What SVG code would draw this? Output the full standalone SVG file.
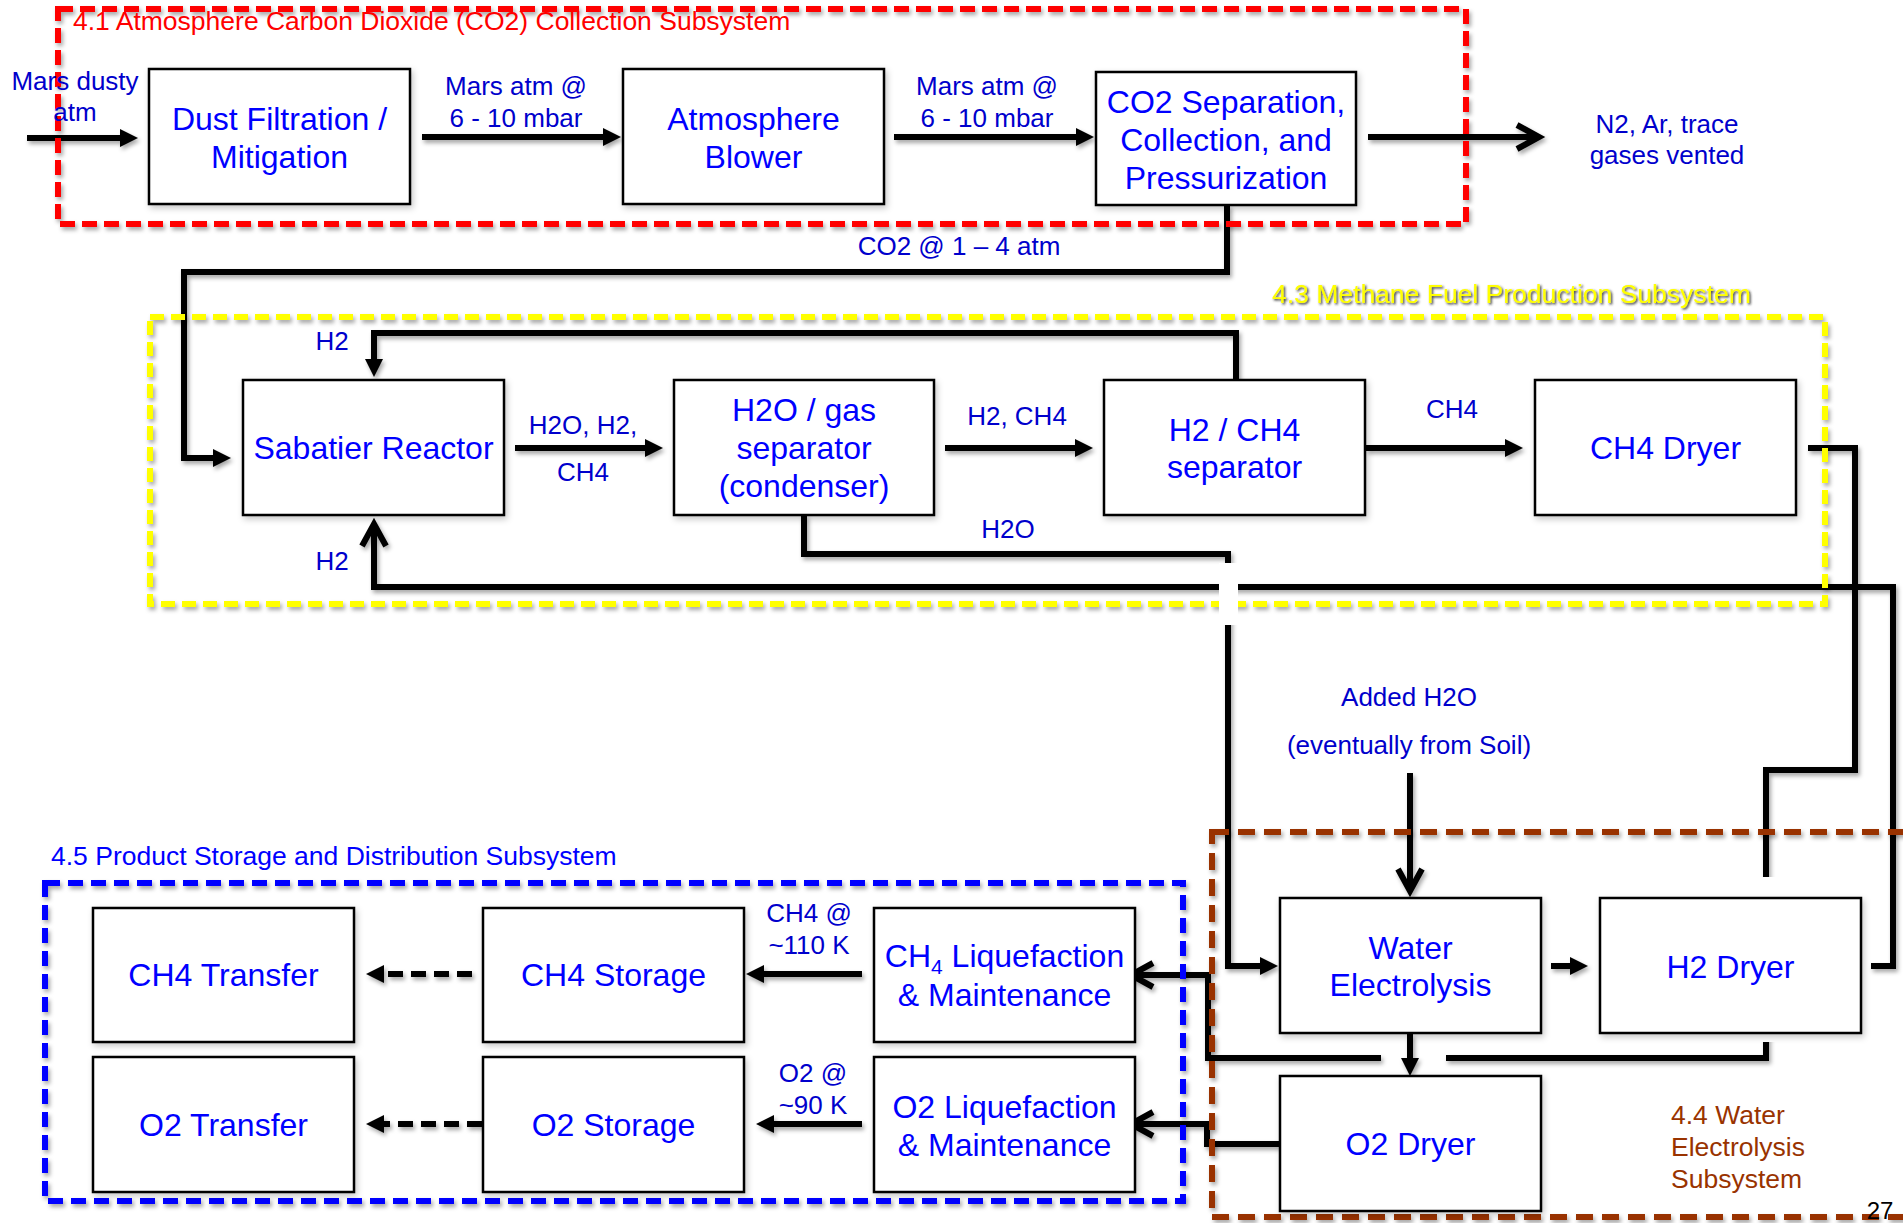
<svg xmlns="http://www.w3.org/2000/svg" width="1903" height="1223" viewBox="0 0 1903 1223">
<style>
text{font-family:"Liberation Sans",Arial,sans-serif}
.box{fill:#fff;stroke:#000;stroke-width:2.5}
.bt{font-size:32px;fill:#0000FF;text-anchor:middle}
.lb{font-size:26px;fill:#0000CC;text-anchor:middle}
.ttl{font-size:26.5px}
.c{fill:none;stroke:#000;stroke-width:6;stroke-linejoin:miter}
.tri{marker-end:url(#tri)}
.chev{marker-end:url(#chev)}
.dash{stroke-dasharray:15 8}
.sub{fill:none;stroke-width:6}
</style>
<defs>
<filter id="sh" x="-5%" y="-5%" width="115%" height="120%">
<feDropShadow dx="2" dy="3" stdDeviation="2" flood-color="#000" flood-opacity="0.35"/>
</filter>
<filter id="bsh" x="-10%" y="-10%" width="125%" height="130%">
<feDropShadow dx="2" dy="3" stdDeviation="3" flood-color="#000" flood-opacity="0.22"/>
</filter>
<filter id="tsh" x="-5%" y="-20%" width="110%" height="160%">
<feDropShadow dx="1.5" dy="1.5" stdDeviation="0.8" flood-color="#222" flood-opacity="0.9"/>
</filter>
<marker id="tri" markerUnits="userSpaceOnUse" orient="auto" refX="0" refY="0" markerWidth="20" markerHeight="20" overflow="visible">
<path d="M-8,-9 L10,0 L-8,9 z" fill="#000"/>
</marker>
<marker id="chev" markerUnits="userSpaceOnUse" orient="auto" refX="0" refY="0" markerWidth="30" markerHeight="30" overflow="visible">
<path d="M-22,-12 L0,0 L-22,12" fill="none" stroke="#000" stroke-width="6" stroke-linejoin="miter"/>
</marker>
</defs>
<rect width="1903" height="1223" fill="#fff"/>

<g id="connectors" filter="url(#sh)">
<path class="c tri" d="M27,138 H128"/>
<path class="c tri" d="M422,137 H611"/>
<path class="c tri" d="M894,137 H1084"/>
<path class="c chev" d="M1368,137 H1539"/>
<path class="c tri" d="M1227,205 V272 H184 V458 H221"/>
<path class="c tri" d="M515,448 H653"/>
<path class="c tri" d="M945,448 H1083"/>
<path class="c tri" d="M1366,448 H1513"/>
<path class="c tri" d="M1236,380 V333 H374 V367"/>
<path class="c chev" d="M1871,966 H1893 V587 H374 V524"/>
<path class="c tri" d="M804,515 V554 H1228 V966 H1268"/>
<path class="c" d="M1808,448 H1855 V770 H1766 V1058 H1446"/>
<path class="c chev" d="M1381,1058 H1208 V975 H1131"/>
<path class="c chev" d="M1280,1144 H1207 V1124 H1131"/>
<path class="c tri" d="M1551,966 H1578"/>
<path class="c tri" d="M1410,1034 V1066"/>
<path class="c chev" d="M1410,773 V891"/>
<path class="c tri" d="M862,974 H756"/>
<path class="c tri" d="M862,1124 H766"/>
<path class="c tri dash" d="M472,974 H376"/>
<path class="c tri dash" d="M482,1124 H376"/>
</g>

<g id="subsystems" filter="url(#sh)">
<rect id="sub-4-1" class="sub" x="58" y="9" width="1408" height="215" stroke="#FF0000" stroke-dasharray="15 7"/>
<rect id="sub-4-3" class="sub" x="150" y="317" width="1675" height="287" stroke="#FFFF00" stroke-width="5" stroke-dasharray="14 7"/>
<rect id="sub-4-5" class="sub" x="45" y="883" width="1138" height="318" stroke="#0000FF" stroke-dasharray="15 8"/>
<rect id="sub-4-4" class="sub" x="1212" y="832" width="700" height="385" stroke="#993300" stroke-width="5" stroke-dasharray="17 9"/>
</g>

<g id="labels">
<text class="ttl" x="73" y="30" fill="#FF0000">4.1 Atmosphere Carbon Dioxide (CO2) Collection Subsystem</text>
<text class="ttl" x="1272" y="303" fill="#FFFF00" filter="url(#tsh)">4.3 Methane Fuel Production Subsystem</text>
<text class="ttl" x="51" y="865" fill="#0000FF">4.5 Product Storage and Distribution Subsystem</text>
<text class="ttl" x="1671" y="1124" fill="#993300">4.4 Water</text>
<text class="ttl" x="1671" y="1156" fill="#993300">Electrolysis</text>
<text class="ttl" x="1671" y="1188" fill="#993300">Subsystem</text>
<text x="1880" y="1219" font-size="24" fill="#000" text-anchor="middle">27</text>

<text class="lb" x="75" y="90">Mars dusty</text>
<text class="lb" x="75" y="121">atm</text>
<text class="lb" x="516" y="95">Mars atm @</text>
<text class="lb" x="516" y="127">6 - 10 mbar</text>
<text class="lb" x="987" y="95">Mars atm @</text>
<text class="lb" x="987" y="127">6 - 10 mbar</text>
<text class="lb" x="1667" y="133">N2, Ar, trace</text>
<text class="lb" x="1667" y="164">gases vented</text>
<text class="lb" x="959" y="255">CO2 @ 1 – 4 atm</text>
<text class="lb" x="332" y="350">H2</text>
<text class="lb" x="332" y="570">H2</text>
<text class="lb" x="583" y="434">H2O, H2,</text>
<text class="lb" x="583" y="481">CH4</text>
<text class="lb" x="1017" y="425">H2, CH4</text>
<text class="lb" x="1452" y="418">CH4</text>
<text class="lb" x="1008" y="538">H2O</text>
<text class="lb" x="1409" y="706">Added H2O</text>
<text class="lb" x="1409" y="754">(eventually from Soil)</text>
<text class="lb" x="809" y="922">CH4 @</text>
<text class="lb" x="809" y="954">~110 K</text>
<text class="lb" x="813" y="1082">O2 @</text>
<text class="lb" x="813" y="1114">~90 K</text>
</g>

<g id="bridges">
<rect x="1219" y="563" width="19" height="62" fill="#fff"/>
<rect x="1753" y="877" width="25" height="165" fill="#fff"/>
</g>

<g id="nodes">
<g id="dust-filtration"><rect class="box" filter="url(#bsh)" x="149" y="69" width="261" height="135"/><text class="bt" x="279.5" y="130">Dust Filtration /</text><text class="bt" x="279.5" y="168">Mitigation</text></g>
<g id="atmosphere-blower"><rect class="box" filter="url(#bsh)" x="623" y="69" width="261" height="135"/><text class="bt" x="753.5" y="130">Atmosphere</text><text class="bt" x="753.5" y="168">Blower</text></g>
<g id="co2-separation"><rect class="box" filter="url(#bsh)" x="1096" y="72" width="260" height="133"/><text class="bt" x="1226" y="113">CO2 Separation,</text><text class="bt" x="1226" y="151">Collection, and</text><text class="bt" x="1226" y="189">Pressurization</text></g>
<g id="sabatier-reactor"><rect class="box" filter="url(#bsh)" x="243" y="380" width="261" height="135"/><text class="bt" x="373.5" y="459">Sabatier Reactor</text></g>
<g id="h2o-gas-separator"><rect class="box" filter="url(#bsh)" x="674" y="380" width="260" height="135"/><text class="bt" x="804" y="421">H2O / gas</text><text class="bt" x="804" y="459">separator</text><text class="bt" x="804" y="497">(condenser)</text></g>
<g id="h2-ch4-separator"><rect class="box" filter="url(#bsh)" x="1104" y="380" width="261" height="135"/><text class="bt" x="1234.5" y="441">H2 / CH4</text><text class="bt" x="1234.5" y="478">separator</text></g>
<g id="ch4-dryer"><rect class="box" filter="url(#bsh)" x="1535" y="380" width="261" height="135"/><text class="bt" x="1665.5" y="459">CH4 Dryer</text></g>
<g id="water-electrolysis"><rect class="box" filter="url(#bsh)" x="1280" y="898" width="261" height="135"/><text class="bt" x="1410.5" y="959">Water</text><text class="bt" x="1410.5" y="996">Electrolysis</text></g>
<g id="h2-dryer"><rect class="box" filter="url(#bsh)" x="1600" y="898" width="261" height="135"/><text class="bt" x="1730.5" y="978">H2 Dryer</text></g>
<g id="o2-dryer"><rect class="box" filter="url(#bsh)" x="1280" y="1076" width="261" height="135"/><text class="bt" x="1410.5" y="1155">O2 Dryer</text></g>
<g id="ch4-transfer"><rect class="box" filter="url(#bsh)" x="93" y="908" width="261" height="134"/><text class="bt" x="223.5" y="986">CH4 Transfer</text></g>
<g id="ch4-storage"><rect class="box" filter="url(#bsh)" x="483" y="908" width="261" height="134"/><text class="bt" x="613.5" y="986">CH4 Storage</text></g>
<g id="ch4-liquefaction"><rect class="box" filter="url(#bsh)" x="874" y="908" width="261" height="134"/><text class="bt" x="1004.5" y="967">CH<tspan font-size="21" dy="7">4</tspan><tspan dy="-7"> Liquefaction</tspan></text><text class="bt" x="1004.5" y="1006">&amp; Maintenance</text></g>
<g id="o2-transfer"><rect class="box" filter="url(#bsh)" x="93" y="1057" width="261" height="135"/><text class="bt" x="223.5" y="1136">O2 Transfer</text></g>
<g id="o2-storage"><rect class="box" filter="url(#bsh)" x="483" y="1057" width="261" height="135"/><text class="bt" x="613.5" y="1136">O2 Storage</text></g>
<g id="o2-liquefaction"><rect class="box" filter="url(#bsh)" x="874" y="1057" width="261" height="135"/><text class="bt" x="1004.5" y="1118">O2 Liquefaction</text><text class="bt" x="1004.5" y="1156">&amp; Maintenance</text></g>
</g>
</svg>
